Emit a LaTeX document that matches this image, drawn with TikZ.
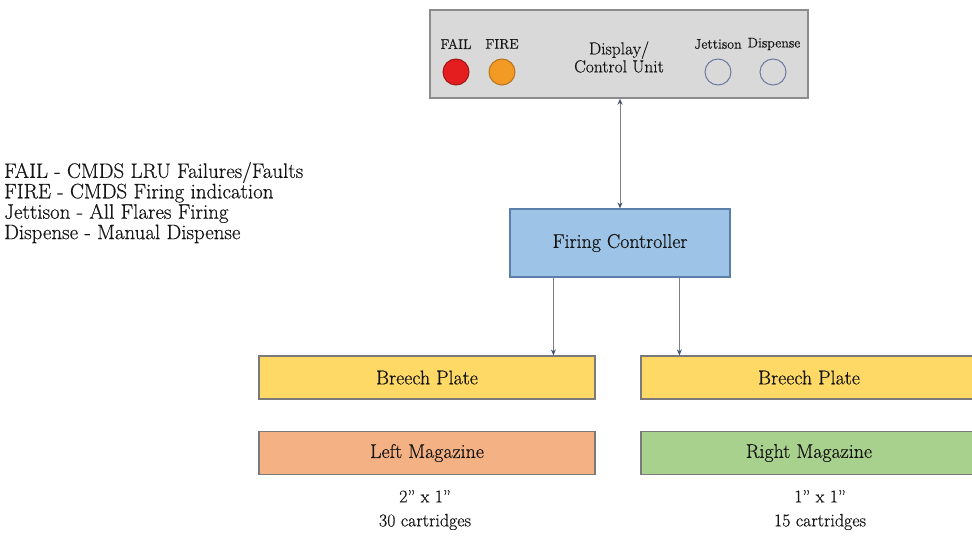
\documentclass[tikz,border=0pt]{standalone}
\usepackage{fontspec}
\setmainfont{Latin Modern Roman}[FakeBold=0.5]
\usetikzlibrary{arrows.meta,calc}

\definecolor{panelgray}{HTML}{D9D9D9}
\definecolor{panelline}{HTML}{8C8C8C}
\definecolor{ctrlblue}{HTML}{9DC3E6}
\definecolor{ctrlline}{HTML}{5B7FA8}
\definecolor{plateyellow}{HTML}{FFD966}
\definecolor{magorange}{HTML}{F4B183}
\definecolor{maggreen}{HTML}{A9D18E}
\definecolor{boxline}{HTML}{7A7A7A}
\definecolor{lampred}{HTML}{E41E1E}
\definecolor{lamporange}{HTML}{F39A24}
\definecolor{lampring}{HTML}{6A7AA0}
\definecolor{wireline}{HTML}{7F7F7F}
\definecolor{tipcol}{HTML}{44546A}
\definecolor{inkcol}{HTML}{151515}

\tikzset{
  unitbox/.style={draw=boxline, line width=1.2bp, minimum width=336bp, minimum height=43bp,
                  inner sep=0pt, text=inkcol, font=\fontsize{20}{22}\selectfont},
  lamp/.style={circle, minimum size=26bp, inner sep=0pt, line width=1bp},
  lamplabel/.style={text=inkcol, inner sep=0pt, font=\fontsize{14}{16}\selectfont},
  wire/.style={draw=wireline, line width=1bp, -{Stealth[length=6bp,width=5bp,color=tipcol]}},
  wirebi/.style={draw=wireline, line width=1bp,
                 {Stealth[length=6bp,width=5bp,color=tipcol]}-{Stealth[length=6bp,width=5bp,color=tipcol]}},
  note/.style={text=inkcol, inner sep=0pt, align=center, font=\fontsize{18}{24}\selectfont}
}

\begin{document}
\begin{tikzpicture}[x=1bp, y=-1bp]
\useasboundingbox (0,0) rectangle (972,541);
\clip (0,0) rectangle (972,541);

% display / control panel
\node[draw=panelline, fill=panelgray, line width=1.5bp, minimum width=378bp, minimum height=88bp,
      inner sep=0pt] (disp) at (619,54) {};
\node[text=inkcol, align=center, inner sep=0pt, font=\fontsize{17.5}{18}\selectfont] (disptxt) at (619,57)
  {Display/\\Control Unit};

% indicator lamps and their labels
\node[lamplabel] (failtxt) at (456,44) {FAIL};
\node[lamplabel] (firetxt) at (502,44) {FIRE};
\node[lamplabel] (jettxt) at (718,44) {Jettison};
\node[lamplabel] (distxt) at (774,44) {Dispense};
\node[lamp, fill=lampred, draw=lampred!70!black] (faillamp) at (456,72) {};
\node[lamp, fill=lamporange, draw=lamporange!75!black] (firelamp) at (502,72) {};
\node[lamp, draw=lampring] (jetlamp) at (718,72) {};
\node[lamp, draw=lampring] (dislamp) at (773,72) {};

% legend
\node[anchor=north west, align=left, text=inkcol, inner sep=0pt,
      font=\fontsize{21}{20.5}\selectfont] (legend) at (4,162)
  {FAIL - CMDS LRU Failures/Faults\\
   FIRE - CMDS Firing indication\\
   Jettison - All Flares Firing\\
   Dispense - Manual Dispense};

% firing controller
\node[draw=ctrlline, fill=ctrlblue, line width=1.2bp, minimum width=220bp, minimum height=68bp,
      inner sep=0pt, text=inkcol, font=\fontsize{20}{22}\selectfont] (fc) at (620,243) {Firing Controller};

% breech plates and magazines
\node[unitbox, fill=plateyellow] (bl) at (427,377.5) {Breech Plate};
\node[unitbox, fill=plateyellow] (br) at (809,377.5) {Breech Plate};
\node[unitbox, fill=magorange] (ml) at (427,453) {Left Magazine};
\node[unitbox, fill=maggreen] (mr) at (809,453) {Right Magazine};

% cartridge notes
\node[note] (nl) at (425,510) {2'' x 1''\\30 cartridges};
\node[note] (nr) at (820,510) {1'' x 1''\\15 cartridges};

% connectors
\draw[wirebi] (disp.south -| fc.north) -- (fc.north);
\draw[wire] ([xshift=44bp]fc.south west) -- ([xshift=44bp]fc.south west |- bl.north);
\draw[wire] ([xshift=170bp]fc.south west) -- ([xshift=170bp]fc.south west |- br.north);
\end{tikzpicture}
\end{document}
